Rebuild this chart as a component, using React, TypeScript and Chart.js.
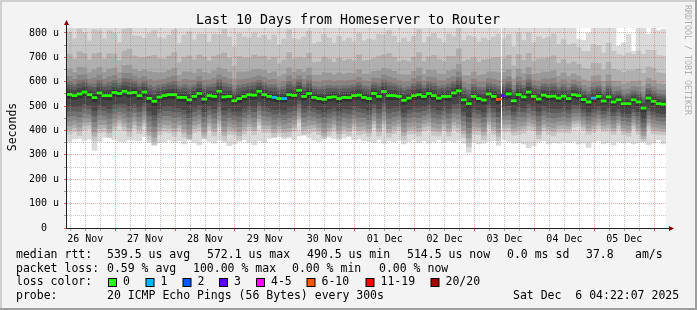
import React, { useEffect, useRef } from 'react';
import { Chart, registerables } from 'chart.js';

Chart.register(...registerables);

const FONT = "'DejaVu Sans Mono', monospace";

// ---- data ----
const TITLE = 'Last 10 Days from Homeserver to Router';
const Y_TITLE = 'Seconds';
const CREDIT = 'RRDTOOL / TOBI OETIKER';
const DAY_LABELS = ['26 Nov', '27 Nov', '28 Nov', '29 Nov', '30 Nov', '01 Dec', '02 Dec', '03 Dec', '04 Dec', '05 Dec'];
const Y_TICKS = [0, 50, 100, 150, 200, 250, 300, 350, 400, 450, 500, 550, 600, 650, 700, 750, 800];
const Y_MAX = 820.5;
const HOURS = 240;
const HOURS_PER_COL = 2;
const FIRST_GRID_HOUR = 1.3; // first 6-hour grid line after graph start

// median RTT per 2-hour column (microseconds)
const MEDIAN_US = [
  548, 543, 550, 558, 547, 535, 554, 543, 543, 556, 552, 561, 554, 556, 543, 558, 532, 520, 537, 543,
  547, 547, 536, 536, 526, 540, 552, 529, 543, 540, 561, 538, 540, 522, 531, 540, 547, 545, 561, 547,
  540, 536, 531, 531, 547, 544, 565, 540, 552, 536, 531, 528, 536, 538, 531, 536, 535, 543, 545, 536,
  531, 552, 540, 560, 543, 543, 540, 524, 533, 543, 547, 540, 552, 543, 533, 540, 540, 554, 563, 526,
  510, 540, 531, 525, 550, 540, 528, 543, 550, 522, 547, 538, 558, 540, 529, 545, 540, 541, 533, 541,
  531, 547, 543, 527, 517, 533, 540, 521, 538, 517, 526, 510, 510, 526, 517, 492, 533, 520, 510, 508,
];

// lost pings (of 20) per column
const LOSS_PINGS = [
  0, 0, 0, 0, 0, 0, 0, 0, 0, 0, 0, 0, 0, 0, 0, 0, 0, 0, 0, 0,
  0, 0, 0, 0, 0, 0, 0, 0, 0, 0, 0, 0, 0, 0, 0, 0, 0, 0, 0, 0,
  0, 1, 0, 1, 0, 0, 0, 0, 0, 0, 0, 0, 0, 0, 0, 0, 0, 0, 0, 0,
  0, 0, 0, 0, 0, 0, 0, 0, 0, 0, 0, 0, 0, 0, 0, 0, 0, 0, 0, 0,
  0, 0, 0, 0, 0, 0, 8, 3, 0, 0, 0, 0, 0, 0, 0, 0, 0, 0, 0, 0,
  0, 0, 0, 0, 0, 1, 0, 0, 0, 0, 0, 0, 0, 0, 0, 0, 0, 0, 0, 0,
];

// lowest smoke edge per column (us)
const LOW_US = [
  355, 365, 368, 360, 365, 318, 355, 372, 370, 362, 355, 355, 362, 360, 358, 375, 350, 340, 350, 352,
  360, 352, 358, 345, 362, 350, 340, 365, 355, 348, 360, 352, 338, 345, 355, 362, 350, 342, 358, 350,
  368, 372, 375, 365, 370, 362, 378, 380, 372, 360, 355, 365, 372, 368, 360, 370, 375, 362, 366, 358,
  355, 350, 362, 348, 358, 352, 360, 345, 355, 362, 350, 358, 348, 355, 362, 350, 358, 352, 360, 348,
  310, 352, 345, 348, 355, 358, 340, 362, 355, 348, 350, 345, 330, 338, 352, 358, 345, 350, 348, 355,
  350, 355, 345, 348, 330, 352, 358, 345, 350, 340, 355, 348, 352, 345, 350, 355, 342, 348, 362, 345,
];

// highest smoke edge per column (us); 900 = above the graph
const HIGH_US = [
  900, 900, 900, 900, 900, 900, 900, 900, 900, 900, 900, 900, 900, 900, 900, 900, 900, 900, 900, 900,
  900, 900, 900, 900, 900, 900, 900, 900, 900, 900, 900, 900, 900, 900, 900, 900, 900, 900, 900, 900,
  900, 900, 900, 900, 900, 900, 900, 900, 900, 900, 900, 900, 900, 900, 900, 900, 900, 900, 900, 900,
  900, 900, 900, 900, 900, 900, 900, 900, 900, 900, 900, 900, 900, 900, 900, 900, 900, 900, 900, 900,
  900, 900, 900, 900, 900, 900, 900, 900, 900, 900, 900, 900, 900, 900, 900, 900, 900, 900, 900, 900,
  900, 900, 775, 770, 800, 900, 900, 900, 900, 900, 745, 760, 795, 725, 900, 900, 795, 900, 810, 815,
];

// relative width of the smoke per column
const SPREAD = [
  1.10, 1.00, 1.15, 1.05, 0.95, 1.20, 1.10, 1.00, 1.15, 1.05, 0.90, 1.10, 1.20, 1.00, 1.05, 0.95, 1.15, 1.25, 1.05, 1.00,
  1.05, 1.15, 0.95, 1.10, 1.20, 1.00, 1.05, 1.15, 0.95, 1.10, 1.00, 1.20, 1.05, 0.95, 1.15, 1.05, 1.00, 1.10, 0.95, 1.05,
  1.00, 1.10, 0.95, 1.05, 1.15, 1.00, 0.90, 1.05, 1.10, 0.95, 1.00, 1.15, 1.05, 0.95, 1.10, 1.00, 1.05, 0.95, 1.10, 1.00,
  1.05, 0.95, 1.10, 1.00, 1.15, 1.05, 0.95, 1.10, 1.00, 1.05, 1.15, 0.95, 1.00, 1.10, 1.05, 0.95, 1.10, 1.00, 1.15, 1.05,
  1.20, 1.05, 1.00, 1.10, 0.95, 1.05, 1.15, 1.00, 1.05, 0.95, 1.10, 1.00, 1.05, 0.95, 1.10, 1.00, 1.05, 1.10, 0.95, 1.00,
  0.95, 0.90, 0.85, 0.85, 0.90, 0.95, 0.90, 0.85, 0.95, 0.90, 0.80, 0.85, 0.90, 0.80, 0.90, 0.95, 0.85, 0.90, 0.85, 0.85,
];

// typical offsets of the inner sorted pings from the median (us)
const PING_OFFSETS_US = [-148, -132, -118, -100, -82, -62, -45, -15, 8, 20, 35, 47, 67, 95, 150, 232];
const SMOKE_GRAYS = [218, 197, 175, 153, 134, 113, 92, 71, 50];
const GAP_HOUR = 174.1; // 100% loss sample

const LOSS_LABELS = ['0', '1', '2', '3', '4-5', '6-10', '11-19', '20/20'];
const LOSS_COLORS = ['#26ff00', '#00b8ff', '#0059ff', '#5e00ff', '#ff00ff', '#ff5500', '#ff0000', '#a10000'];

const RTT_LABEL = 'median rtt:';
const RTT_STATS = ['539.5 us avg', '572.1 us max', '490.5 us min', '514.5 us now', '0.0 ms sd', '37.8', 'am/s'];
const LOSS_LABEL = 'packet loss:';
const LOSS_STATS = ['0.59 % avg', '100.00 % max', '0.00 % min', '0.00 % now'];
const COLOR_LABEL = 'loss color:';
const PROBE_LABEL = 'probe:';
const PROBE_TEXT = '20 ICMP Echo Pings (56 Bytes) every 300s';
const DATE_TEXT = 'Sat Dec  6 04:22:07 2025';

// ---- layout ----
const W = 697;
const H = 310;
const RTT_X = [107, 207, 307, 407, 507, 586, 635];
const LOSS_X = [107, 193, 292, 379];
const BOX_X = [108, 145.5, 182.5, 219, 256, 306.5, 365.5, 430.5];
const ROW_Y = [257.8, 271.6, 285.4, 299.2];

function lossIndex(l: number): number {
  if (l <= 3) return l;
  if (l <= 5) return 4;
  if (l <= 10) return 5;
  if (l <= 19) return 6;
  return 7;
}

const X_TICKS: number[] = [];
for (let j = 0; FIRST_GRID_HOUR + 6 * j < HOURS; j++) X_TICKS.push(FIRST_GRID_HOUR + 6 * j);
const tickIndex = (v: number) => Math.round((v - FIRST_GRID_HOUR) / 6);

const GRID_MINOR = 'rgba(143,143,143,0.5)';
const GRID_MAJOR = 'rgba(222,80,80,0.45)';

const decorPlugin = {
  id: 'rrdDecor',
  beforeDraw(chart: any) {
    const { ctx, chartArea: a } = chart;
    ctx.save();
    ctx.fillStyle = '#f3f3f3';
    ctx.fillRect(0, 0, W, H);
    ctx.fillStyle = '#cfcfcf';
    ctx.fillRect(0, 0, W, 2);
    ctx.fillRect(0, 0, 2, H);
    ctx.fillStyle = '#9e9e9e';
    ctx.fillRect(0, H - 2, W, 2);
    ctx.fillRect(W - 2, 0, 2, H);
    ctx.fillStyle = '#ffffff';
    ctx.fillRect(a.left, a.top, a.right - a.left, a.bottom - a.top);
    ctx.restore();
  },
  afterDraw(chart: any) {
    const { ctx, chartArea: a } = chart;
    ctx.save();
    // axes
    ctx.strokeStyle = '#202020';
    ctx.lineWidth = 1;
    ctx.beginPath();
    ctx.moveTo(a.left - 0.5, a.bottom + 0.5);
    ctx.lineTo(a.left - 0.5, a.top - 4);
    ctx.moveTo(a.left - 0.5, a.bottom + 0.5);
    ctx.lineTo(a.right + 3, a.bottom + 0.5);
    ctx.stroke();
    ctx.fillStyle = '#800000';
    ctx.beginPath();
    ctx.moveTo(a.left - 3, a.top - 3);
    ctx.lineTo(a.left + 2, a.top - 3);
    ctx.lineTo(a.left - 0.5, a.top - 8);
    ctx.closePath();
    ctx.fill();
    ctx.beginPath();
    ctx.moveTo(a.right + 3, a.bottom - 2);
    ctx.lineTo(a.right + 3, a.bottom + 3);
    ctx.lineTo(a.right + 8, a.bottom + 0.5);
    ctx.closePath();
    ctx.fill();

    // title
    ctx.fillStyle = '#000';
    ctx.textBaseline = 'alphabetic';
    ctx.textAlign = 'center';
    ctx.font = `13.3px ${FONT}`;
    ctx.fillText(TITLE, 348, 24);

    // y title
    ctx.font = `11.5px ${FONT}`;
    ctx.save();
    ctx.translate(15.5, 127);
    ctx.rotate(-Math.PI / 2);
    ctx.fillText(Y_TITLE, 0, 0);
    ctx.restore();

    // credit
    ctx.save();
    ctx.fillStyle = '#b0b0b0';
    ctx.font = `8.3px ${FONT}`;
    ctx.translate(684.5, 60);
    ctx.rotate(Math.PI / 2);
    ctx.fillText(CREDIT, 0, 0);
    ctx.restore();

    // legend
    ctx.textAlign = 'left';
    ctx.font = `11.5px ${FONT}`;
    ctx.fillStyle = '#000';
    ctx.fillText(RTT_LABEL, 16, ROW_Y[0]);
    RTT_STATS.forEach((s, i) => ctx.fillText(s, RTT_X[i], ROW_Y[0]));
    ctx.fillText(LOSS_LABEL, 16, ROW_Y[1]);
    LOSS_STATS.forEach((s, i) => ctx.fillText(s, LOSS_X[i], ROW_Y[1]));
    ctx.fillText(COLOR_LABEL, 16, ROW_Y[2]);
    LOSS_LABELS.forEach((s, i) => {
      const x = BOX_X[i];
      ctx.fillStyle = '#000';
      ctx.fillRect(x, 278, 9, 9);
      ctx.fillStyle = LOSS_COLORS[i];
      ctx.fillRect(x + 1, 279, 7, 7);
      ctx.fillStyle = '#000';
      ctx.fillText(s, x + 15, ROW_Y[2]);
    });
    ctx.fillText(PROBE_LABEL, 16, ROW_Y[3]);
    ctx.fillText(PROBE_TEXT, 107, ROW_Y[3]);
    ctx.fillText(DATE_TEXT, 513, ROW_Y[3]);
    ctx.restore();
  },
};

export default function App() {
  const ref = useRef<HTMLCanvasElement | null>(null);

  useEffect(() => {
    document.body.style.margin = '0';
    const canvas = ref.current;
    if (!canvas) return;

    const centers = MEDIAN_US.map((_, i) => i * HOURS_PER_COL + HOURS_PER_COL / 2);
    const pings = MEDIAN_US.map((m, i) => {
      const q = [LOW_US[i], ...PING_OFFSETS_US.map((o) => m + o * SPREAD[i]), HIGH_US[i]];
      for (let k = 1; k < q.length; k++) if (q[k] < q[k - 1] + 1) q[k] = q[k - 1] + 1;
      return q;
    });

    const datasets: any[] = SMOKE_GRAYS.map((g, k) => ({
      type: 'bar',
      label: `smoke${k}`,
      data: pings.map((q, i) => ({ x: centers[i], y: [q[k], q[17 - k]] })),
      backgroundColor: `rgb(${g},${g},${g})`,
      borderWidth: 0,
      grouped: false,
      barPercentage: 1,
      categoryPercentage: 1,
      order: 20 - k,
    }));
    datasets.push({
      type: 'line',
      label: 'gap',
      data: [
        { x: GAP_HOUR, y: 0 },
        { x: GAP_HOUR, y: Y_MAX },
      ],
      borderColor: '#ffffff',
      borderWidth: 1,
      pointRadius: 0,
      fill: false,
      order: 2,
    });
    datasets.push({
      type: 'bar',
      label: 'median',
      data: MEDIAN_US.map((m, i) => ({ x: centers[i], y: [m - 4.5, m + 4.5] })),
      backgroundColor: LOSS_PINGS.map((l) => LOSS_COLORS[lossIndex(l)]),
      borderWidth: 0,
      grouped: false,
      barPercentage: 1,
      categoryPercentage: 1,
      order: 0,
    });

    const chart = new Chart(canvas, {
      type: 'bar',
      data: { datasets },
      options: {
        animation: false,
        responsive: false,
        devicePixelRatio: 1,
        events: [],
        layout: { padding: { left: 0, right: 31, top: 28, bottom: 0 } },
        plugins: { legend: { display: false }, tooltip: { enabled: false }, title: { display: false } },
        scales: {
          x: {
            type: 'linear',
            min: 0,
            max: HOURS,
            offset: false,
            afterBuildTicks: (s: any) => {
              s.ticks = X_TICKS.map((v) => ({ value: v }));
            },
            afterFit: (s: any) => {
              s.height = 82;
            },
            grid: {
              z: 1,
              offset: false,
              lineWidth: 1,
              drawTicks: true,
              tickLength: 3,
              color: (c: any) => (tickIndex(c.tick.value) % 4 === 3 ? GRID_MAJOR : GRID_MINOR),
              tickColor: (c: any) => (tickIndex(c.tick.value) % 4 === 3 ? '#d06060' : '#a0a0a0'),
            },
            border: { display: false, dash: [1, 1] },
            ticks: {
              autoSkip: false,
              maxRotation: 0,
              minRotation: 0,
              padding: 2,
              color: '#000',
              font: { family: FONT, size: 10 },
              callback: (v: any) => {
                const j = tickIndex(Number(v));
                return (j - 1) % 4 === 0 ? DAY_LABELS[(j - 1) / 4] : '';
              },
            },
          },
          y: {
            type: 'linear',
            min: 0,
            max: Y_MAX,
            afterBuildTicks: (s: any) => {
              s.ticks = Y_TICKS.map((v) => ({ value: v }));
            },
            afterFit: (s: any) => {
              s.width = 67;
            },
            grid: {
              z: 1,
              lineWidth: 1,
              drawTicks: true,
              tickLength: 3,
              color: (c: any) => (c.tick.value % 100 === 0 ? GRID_MAJOR : GRID_MINOR),
              tickColor: (c: any) => (c.tick.value % 100 === 0 ? '#d06060' : '#a0a0a0'),
            },
            border: { display: false, dash: [1, 1] },
            ticks: {
              autoSkip: false,
              padding: 5,
              color: '#000',
              font: { family: FONT, size: 10 },
              callback: (v: any) => {
                const n = Number(v);
                if (n % 100 !== 0) return '';
                return n === 0 ? '0  ' : `${n} u`;
              },
            },
          },
        },
      },
      plugins: [decorPlugin],
    } as any);

    return () => chart.destroy();
  }, []);

  return <canvas ref={ref} width={W} height={H} style={{ display: 'block', width: W, height: H }} />;
}
